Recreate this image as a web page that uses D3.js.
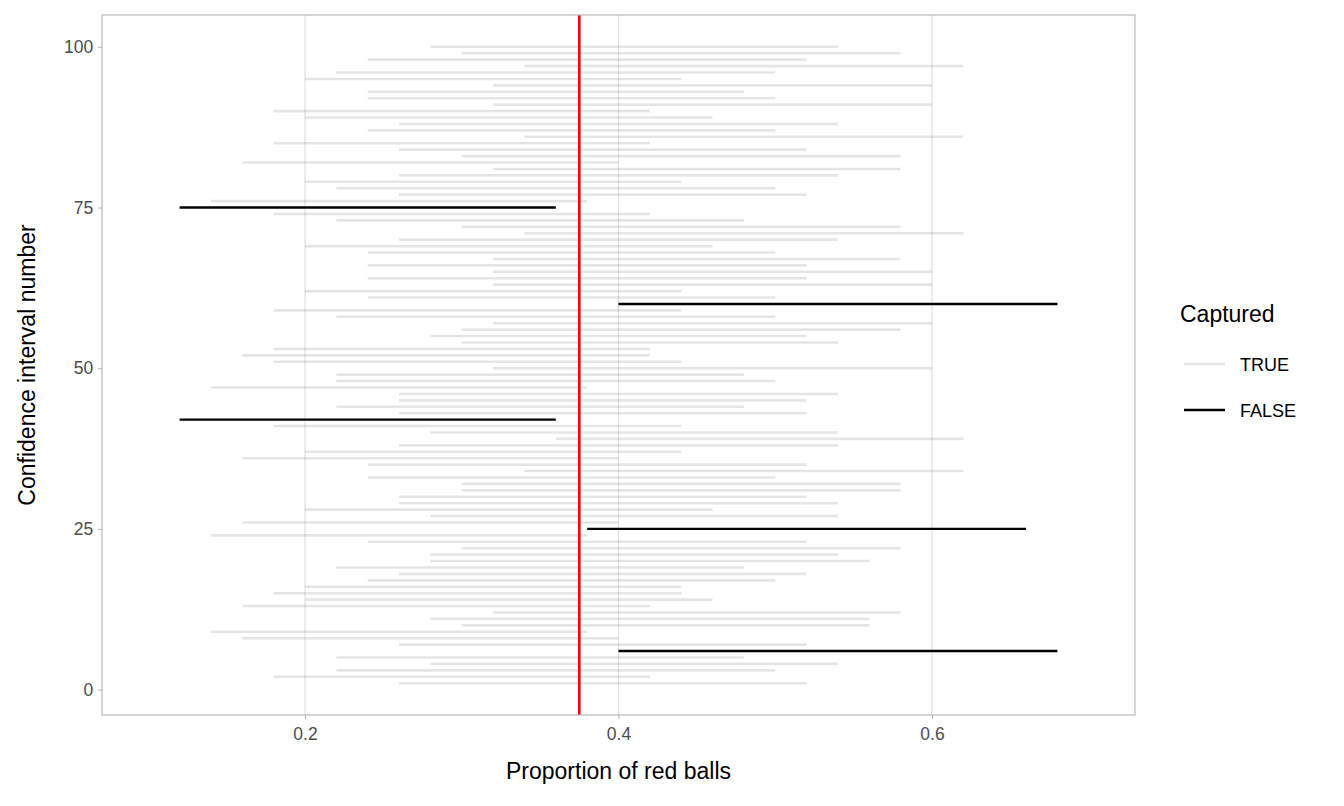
<!DOCTYPE html>
<html><head><meta charset="utf-8">
<script src="https://cdn.jsdelivr.net/npm/d3@7"></script>
<style>body{margin:0;background:#fff;font-family:"Liberation Sans",Arial,sans-serif;}</style>
</head><body><svg id="c" width="1344" height="806"></svg>
<script>
// interval ids 1..100
const lower = [0.26,0.18,0.22,0.28,0.22,0.40,0.26,0.16,0.14,0.30,
 0.28,0.32,0.16,0.20,0.18,0.20,0.24,0.26,0.22,0.28,
 0.28,0.30,0.24,0.14,0.38,0.16,0.28,0.20,0.26,0.26,
 0.30,0.30,0.24,0.34,0.24,0.16,0.20,0.26,0.36,0.28,
 0.18,0.12,0.26,0.22,0.26,0.26,0.14,0.22,0.22,0.32,
 0.18,0.16,0.18,0.30,0.28,0.30,0.32,0.22,0.18,0.40,
 0.24,0.20,0.32,0.24,0.32,0.24,0.32,0.24,0.20,0.26,
 0.34,0.30,0.22,0.18,0.12,0.14,0.26,0.22,0.20,0.26,
 0.32,0.16,0.30,0.26,0.18,0.34,0.24,0.26,0.20,0.18,
 0.32,0.24,0.24,0.32,0.20,0.22,0.34,0.24,0.30,0.28];
const upper = [0.52,0.42,0.50,0.54,0.48,0.68,0.52,0.40,0.38,0.56,
 0.56,0.58,0.42,0.46,0.44,0.44,0.50,0.52,0.48,0.56,
 0.54,0.58,0.52,0.38,0.66,0.40,0.54,0.46,0.54,0.52,
 0.58,0.58,0.50,0.62,0.52,0.40,0.44,0.54,0.62,0.54,
 0.44,0.36,0.52,0.48,0.52,0.54,0.38,0.50,0.48,0.60,
 0.44,0.42,0.42,0.54,0.52,0.58,0.60,0.50,0.44,0.68,
 0.50,0.44,0.60,0.52,0.60,0.52,0.58,0.50,0.46,0.54,
 0.62,0.58,0.48,0.42,0.36,0.38,0.52,0.50,0.44,0.54,
 0.58,0.40,0.58,0.52,0.42,0.62,0.50,0.54,0.46,0.42,
 0.60,0.50,0.48,0.60,0.44,0.50,0.62,0.52,0.58,0.54];
const trueP = 0.375;
const xTicks = [0.2,0.4,0.6];
const yTicks = [0,25,50,75,100];

const data = lower.map((l,i)=>({id:i+1,lo:l,hi:upper[i],cap:l<=trueP&&upper[i]>=trueP}));
const svg = d3.select("#c");
const L=102,R=1135,T=15,B=715;
const x = d3.scaleLinear().domain([0.0705,0.7295]).range([L,R]);
const y = d3.scaleLinear().domain([-3.95,104.95]).range([B,T]);

svg.append("g").selectAll("line").data(xTicks).join("line")
 .attr("x1",d=>x(d)).attr("x2",d=>x(d)).attr("y1",T).attr("y2",B)
 .attr("stroke","#dedede").attr("stroke-width",1.1);

const g = svg.append("g");
g.selectAll("line.t").data(data.filter(d=>d.cap)).join("line")
 .attr("x1",d=>x(d.lo)).attr("x2",d=>x(d.hi)).attr("y1",d=>y(d.id)).attr("y2",d=>y(d.id))
 .attr("stroke","#000").attr("stroke-opacity",0.1).attr("stroke-width",2.6);
g.selectAll("line.f").data(data.filter(d=>!d.cap)).join("line")
 .attr("x1",d=>x(d.lo)).attr("x2",d=>x(d.hi)).attr("y1",d=>y(d.id)).attr("y2",d=>y(d.id))
 .attr("stroke","#000").attr("stroke-width",2.4);
svg.append("line").attr("x1",x(trueP)).attr("x2",x(trueP)).attr("y1",T).attr("y2",B)
 .attr("stroke","#ff0000").attr("stroke-width",2.6);

svg.append("rect").attr("x",L).attr("y",T).attr("width",R-L).attr("height",B-T)
 .attr("fill","none").attr("stroke","#b3b3b3").attr("stroke-width",1.1);

const xa = svg.append("g").attr("transform",`translate(0,${B})`)
 .call(d3.axisBottom(x).tickValues(xTicks).tickSize(4).tickFormat(d3.format(".1f")));
const ya = svg.append("g").attr("transform",`translate(${L},0)`)
 .call(d3.axisLeft(y).tickValues(yTicks).tickSize(4));
[xa,ya].forEach(a=>{a.select(".domain").remove();
 a.selectAll("line").attr("stroke","#b3b3b3");
 a.selectAll("text").attr("fill","#4d4d4d").style("font-size","17.5px").style("font-family","Liberation Sans, Arial");});
xa.selectAll("text").attr("dy","1.0em");
ya.selectAll("text").attr("dx","-0.1em");

svg.append("text").attr("x",(L+R)/2).attr("y",779).attr("text-anchor","middle")
 .style("font-size","23px").text("Proportion of red balls");
svg.append("text").attr("transform",`translate(35,${(T+B)/2}) rotate(-90)`).attr("text-anchor","middle")
 .style("font-size","23px").text("Confidence interval number");

const lg = svg.append("g");
lg.append("text").attr("x",1180).attr("y",322).style("font-size","23px").text("Captured");
[["TRUE",364,true],["FALSE",410,false]].forEach(([t,yy,c])=>{
 lg.append("line").attr("x1",1184).attr("x2",1225).attr("y1",yy).attr("y2",yy)
  .attr("stroke","#000").attr("stroke-opacity",c?0.1:1).attr("stroke-width",c?2.6:2.4);
 lg.append("text").attr("x",1240).attr("y",yy+6.5).style("font-size","18px").text(t);
});
</script></body></html>
